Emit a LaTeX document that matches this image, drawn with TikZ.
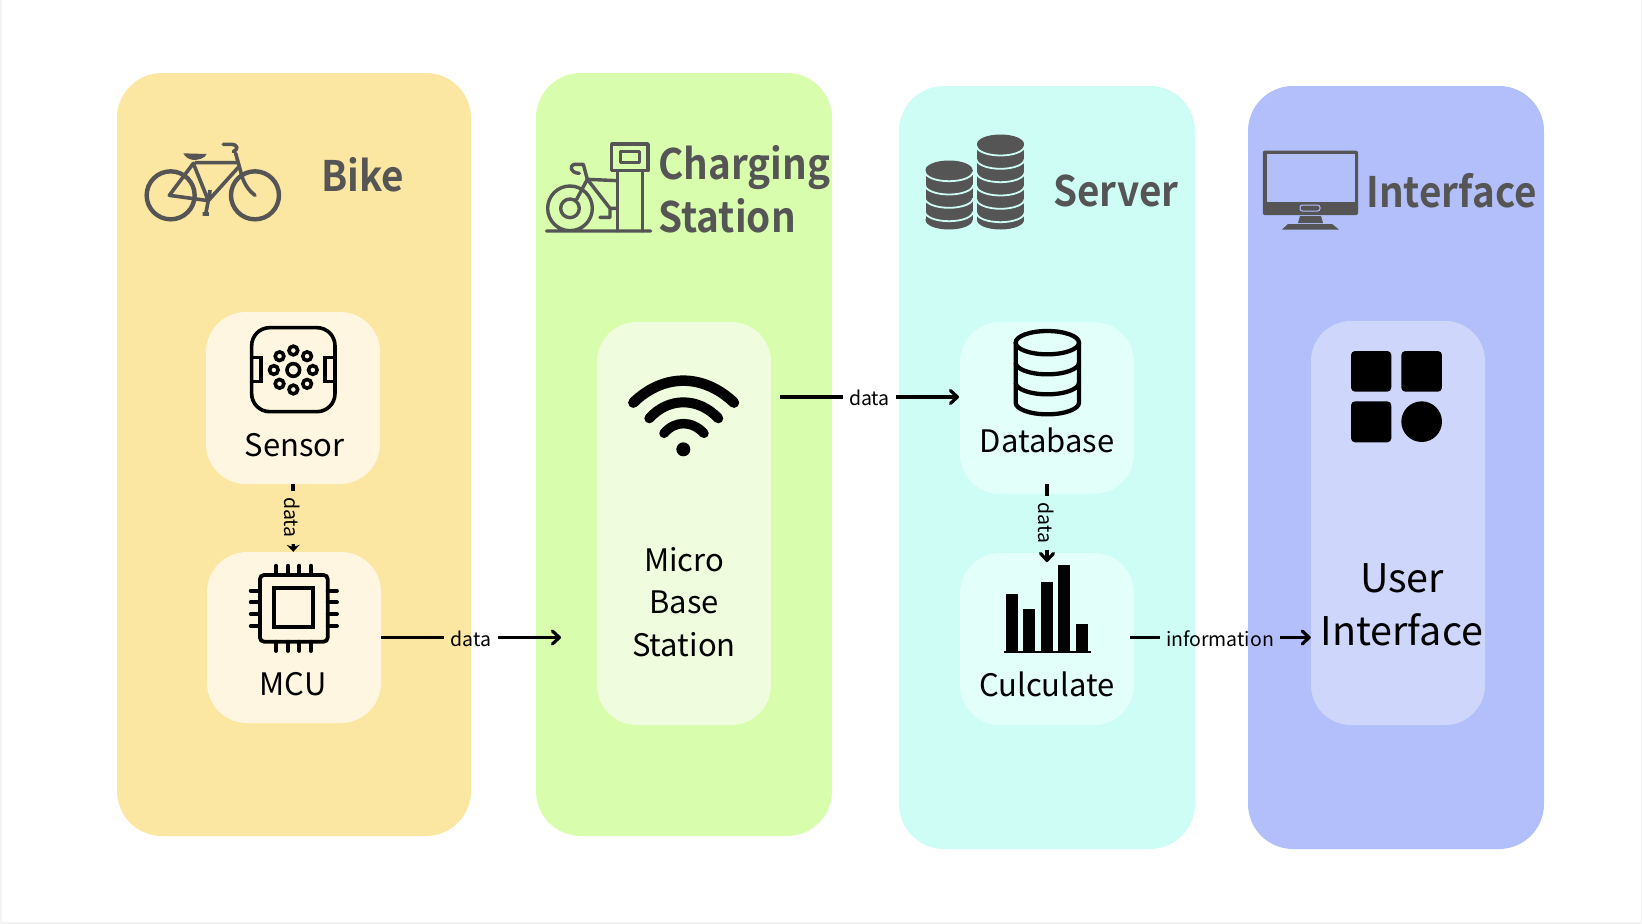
\documentclass[tikz,border=0pt]{standalone}
\usepackage{fontspec}
\setmainfont{Noto Sans CJK SC}
\newfontfamily\titlefont[FakeStretch=0.92]{Noto Sans CJK SC Bold}
\usetikzlibrary{arrows.meta}
\definecolor{edgegray}{HTML}{F3F3F3}
\definecolor{bikepanel}{HTML}{FBE6A2}
\definecolor{stationpanel}{HTML}{D8FDAD}
\definecolor{serverpanel}{HTML}{CDFDF5}
\definecolor{uipanel}{HTML}{B3BFFA}
\definecolor{bikebox}{HTML}{FEF6E0}
\definecolor{stationbox}{HTML}{EFFDDE}
\definecolor{serverbox}{HTML}{E3FFFA}
\definecolor{uibox}{HTML}{CFD6FB}
\definecolor{titlegray}{HTML}{555555}
\tikzset{
  panel/.style={rounded corners=45pt, minimum width=#1, inner sep=0pt},
  innerbox/.style={rounded corners=40pt, minimum width=174pt, inner sep=0pt},
  paneltitle/.style={text=titlegray, align=left, font=\titlefont\fontsize{42}{52.5}\selectfont},
  boxtext/.style={align=center, font=\fontsize{31}{42.5}\selectfont},
  flowtext/.style={font=\fontsize{19.5}{24}\selectfont, text height=18pt, text depth=0pt, inner xsep=6pt, inner ysep=0pt},
  flowline/.style={line width=3.2pt},
  flowarrow/.style={line width=3.2pt, -{Straight Barb[length=7pt,width=13pt,round]}},
  zoomed/.style 2 args={shift={(#1,#2)}, x=.3333pt, y=-.3333pt},
}
\begin{document}
\begin{tikzpicture}[x=1pt,y=-1pt]
\useasboundingbox (0,0) rectangle (1642,924);
\fill[edgegray] (0,0) rectangle (1642,924);
\fill[white] (2,0) rectangle (1641,922);
\node[panel=354pt, fill=bikepanel, minimum height=763pt] (bike) at (294,454.5) {};
\node[panel=296pt, fill=stationpanel, minimum height=763pt] (station) at (684,454.5) {};
\node[panel=296pt, fill=serverpanel, minimum height=763pt] (server) at (1047,467.5) {};
\node[panel=296pt, fill=uipanel, minimum height=763pt] (ui) at (1396,467.5) {};
\node[innerbox, fill=bikebox, minimum height=172pt] (sensor) at (293,398) {};
\node[innerbox, fill=bikebox, minimum height=171pt] (mcu) at (294,637.5) {};
\node[innerbox, fill=stationbox, minimum height=403pt] (micro) at (684,523.5) {};
\node[innerbox, fill=serverbox, minimum height=172pt] (database) at (1047,408) {};
\node[innerbox, fill=serverbox, minimum height=172pt] (calculate) at (1047,639) {};
\node[innerbox, fill=uibox, minimum height=404pt] (userui) at (1398,523) {};
\node[paneltitle] (biketitle) at (362.5,175) {Bike};
\node[paneltitle, anchor=west] (stationtitle) at (655,189.5) {Charging\\Station};
\node[paneltitle] (servertitle) at (1116,191) {Server};
\node[paneltitle] (uititle) at (1451.5,191) {Interface};
\node[boxtext] (sensortext) at (294.5,445) {Sensor};
\node[boxtext] (mcutext) at (293,684) {MCU};
\node[boxtext] (microtext) at (684,602) {Micro\\Base\\Station};
\node[boxtext] (databasetext) at (1047,440.5) {Database};
\node[boxtext] (calculatetext) at (1047,684.5) {Culculate};
\node[boxtext, font=\fontsize{39.5}{53}\selectfont] (useruitext) at (1402,604.5) {User\\Interface};
% bike icon
\begin{scope}[zoomed={110}{110}, titlegray, line join=round]
\draw[line width=4.4pt] (182,256) circle[radius=72] (435,256) circle[radius=72];
\draw[line width=3.6pt] (178,256) -- (250,160) -- (295,272) -- cycle (255,158) -- (385,158) (295,272) -- (385,172) (300,240) -- (297,272) (295,272) -- (287,312) (278,312) -- (297,312);
\draw[line width=3.6pt, line cap=round] (377,130) -- (395,195) .. controls (403,225) and (420,245) .. (435,256) (340,103) -- (365,103) .. controls (385,105) and (385,118) .. (370,125);
\fill (220,130) -- (290,132) .. controls (285,145) and (265,150) .. (250,150) .. controls (235,148) and (225,140) .. cycle;
\end{scope}
% charging icon
\begin{scope}[zoomed={530}{120}, titlegray, line width=3.4pt, line join=round, line cap=round]
\draw (50,333) -- (362,333) (120,265) circle[radius=67] (120,265) circle[radius=28];
\draw (262,155) -- (262,333) (338,155) -- (338,333) (245,72) rectangle (354,152) (272,95) rectangle (328,128);
\draw (140,238) -- (172,178) -- (262,182) (172,178) -- (240,265) -- (262,265) (210,292) -- (240,292) -- (240,265);
\draw (172,178) -- (160,133) -- (132,133) .. controls (118,138) and (120,158) .. (148,160);
\end{scope}
% server icon
\foreach \stackx/\topy/\bandlist in {949/170/{171.7,185,198.3,211.7}, 1000.5/144/{146,159.3,172.7,186,199.3,212.7}}{
  \fill[titlegray] (\stackx,\topy) ellipse[x radius=23.5, y radius=9.5];
  \fill[titlegray] (\stackx-23.5,\topy) rectangle (\stackx+23.5,220);
  \fill[titlegray] (\stackx,220) ellipse[x radius=23.5, y radius=9.5];
  \foreach \bandy in \bandlist
    \draw[serverpanel, line width=1.8pt] (\stackx-24,\bandy) arc[start angle=180, end angle=0, x radius=24, y radius=9.5];
}
% monitor icon
\fill[titlegray, rounded corners=2pt] (1262.8,150.7) rectangle (1358,215);
\fill[uipanel] (1267,154.3) rectangle (1354.5,201.7);
\draw[uipanel, line width=1pt, rounded corners=2.5pt] (1300,205) rectangle (1320,211);
\fill[titlegray] (1300,216) -- (1321,216) -- (1323,223) -- (1298,223) -- cycle (1288,224) -- (1332,224) -- (1339,229.5) -- (1282,229.5) -- cycle;
% sensor icon
\begin{scope}[zoomed={200}{310}, line width=3.6pt]
\draw[rounded corners=18pt] (155,53) rectangle (405,305);
\draw (155,143) -- (183,143) -- (183,215) -- (155,215) (405,143) -- (375,143) -- (375,215) -- (405,215);
\draw (280,180) circle[radius=19];
\foreach \dotangle in {0,45,...,315}
  \draw (280,180) ++(\dotangle:58.5) circle[radius=13];
\end{scope}
% mcu icon
\begin{scope}[zoomed={200}{550}, line width=3.8pt, line cap=round]
\draw[rounded corners=4pt] (180,75) rectangle (383,275);
\draw[line cap=butt, line width=4.2pt] (222,115) rectangle (340,232);
\foreach \pinx/\piny in {228/122,264/157,298/192,333/228}{
  \draw (\pinx,47) -- (\pinx,75) (\pinx,275) -- (\pinx,303) (152,\piny) -- (180,\piny) (383,\piny) -- (411,\piny);
}
\end{scope}
% wifi icon
\begin{scope}[zoomed={600}{330}, line cap=round]
\draw[line width=10.5pt] (100,218) .. controls (190,130) and (310,130) .. (402,218);
\draw[line width=10pt] (148,265) .. controls (205,201) and (295,201) .. (355,265);
\draw[line width=9.5pt] (192,310) .. controls (225,271) and (275,271) .. (312,310);
\fill (250,358) circle[radius=21];
\end{scope}
% database icon
\begin{scope}[zoomed={960}{320}, line width=4.3pt]
\draw (262,68) ellipse[x radius=95, y radius=35];
\draw (167,68) -- (167,248) arc[start angle=180, end angle=0, x radius=95, y radius=35] -- (357,68);
\foreach \bandy in {128,188}
  \draw (167,\bandy) arc[start angle=180, end angle=0, x radius=95, y radius=35];
\end{scope}
% bars icon
\foreach \barx/\bartop in {1005.5/594.3,1023/609.3,1040.6/581.7,1058/565.3,1075.7/624}
  \fill (\barx,\bartop) rectangle (\barx+12,651);
\fill (1003.7,650.5) rectangle (1090.9,652.5);
% apps icon
\begin{scope}[zoomed={1300}{320}]
\fill[rounded corners=4pt] (153,93) rectangle (274,215);
\fill[rounded corners=4pt] (304,93) rectangle (426,215);
\fill[rounded corners=4pt] (153,244) rectangle (274,367);
\fill (365,305) circle[radius=61];
\end{scope}
% flows
\coordinate (microout) at (780,397);
\coordinate (databasein) at (959,397);
\coordinate (stationin) at (561,637.5);
\coordinate (databaseout) at (1047,484);
\coordinate (calculatein) at (1047,562);
\coordinate (calculateout) at (1130,637.5);
\node[flowtext, rotate=-90] (sensorflow) at (293,517.5) {data};
\node[flowtext] (mcuflow) at (471,637.5) {data};
\node[flowtext, text height=17pt] (microflow) at (869.5,397) {data};
\node[flowtext, rotate=-90] (databaseflow) at (1047,523) {data};
\node[flowtext] (calculateflow) at (1220,637.5) {information};
\draw[flowline] (sensor) -- (sensorflow);
\draw[line width=3.2pt, -{Stealth[length=7pt,width=13pt]}] (sensorflow) -- (mcu);
\draw[flowline] (mcu) -- (mcuflow);
\draw[flowarrow] (mcuflow) -- (stationin);
\draw[flowline] (microout) -- (microflow);
\draw[flowarrow] (microflow) -- (databasein);
\draw[flowline] (databaseout) -- (databaseflow);
\draw[flowarrow] (databaseflow) -- (calculatein);
\draw[flowline] (calculateout) -- (calculateflow);
\draw[flowarrow] (calculateflow) -- (userui.west |- calculateflow);
\end{tikzpicture}
\end{document}
